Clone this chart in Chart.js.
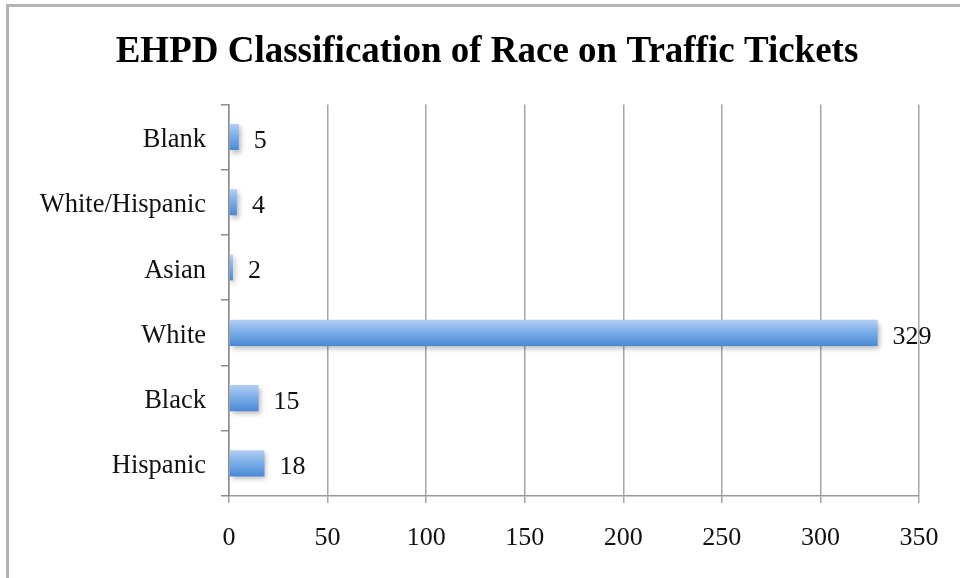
<!DOCTYPE html>
<html>
<head>
<meta charset="utf-8">
<script src="https://cdn.jsdelivr.net/npm/chart.js@4"></script>
<style>
  html, body { margin: 0; padding: 0; background: #fff; }
  #wrap { position: relative; width: 960px; height: 578px; }
  #frame {
    position: absolute; left: 6px; top: 4px; right: -10px; bottom: -10px;
    border-left: 3px solid #b3b3b3; border-top: 3px solid #b3b3b3;
    pointer-events: none;
  }
</style>
</head>
<body>
<div id="wrap">
  <canvas id="raceChart" width="960" height="578"></canvas>
  <div id="frame"></div>
</div>
<script>
const categories = ["Blank", "White/Hispanic", "Asian", "White", "Black", "Hispanic"];
const tickets = [5, 4, 2, 329, 15, 18];
const xTicks = [0, 50, 100, 150, 200, 250, 300, 350];

const serif = "'Liberation Serif', 'Times New Roman', serif";

document.addEventListener("DOMContentLoaded", function () {
  const ctx = document.getElementById("raceChart").getContext("2d");

  // vertical gradient for each bar, based on the category's pixel row
  function barFill(context) {
    const chart = context.chart;
    const yScale = chart.scales.y;
    if (!yScale || context.dataIndex == null) return "#6ea4e2";
    const y = yScale.getPixelForValue(context.dataIndex);
    if (!isFinite(y)) return "#6ea4e2";
    const half = 13;
    const g = chart.ctx.createLinearGradient(0, y - half, 0, y + half);
    g.addColorStop(0, "#b3d0f4");
    g.addColorStop(0.45, "#7cafe8");
    g.addColorStop(1, "#4a88d6");
    return g;
  }

  const barShadow = {
    id: "barShadow",
    beforeDatasetsDraw(chart) {
      const c = chart.ctx;
      c.save();
      c.shadowColor = "rgba(0, 0, 0, 0.28)";
      c.shadowBlur = 5;
      c.shadowOffsetX = 2;
      c.shadowOffsetY = 3;
    },
    afterDatasetsDraw(chart) {
      chart.ctx.restore();
    },
  };

  const valueLabels = {
    id: "valueLabels",
    afterDatasetsDraw(chart) {
      const c = chart.ctx;
      const meta = chart.getDatasetMeta(0);
      c.save();
      c.font = "26px " + serif;
      c.fillStyle = "#111";
      c.textAlign = "left";
      c.textBaseline = "middle";
      meta.data.forEach(function (bar, i) {
        c.fillText(String(tickets[i]), bar.x + 15, bar.y + 4);
      });
      c.restore();
    },
  };

  const chart = new Chart(ctx, {
    type: "bar",
    data: {
      labels: categories,
      datasets: [
        {
          label: "Tickets",
          data: tickets,
          backgroundColor: barFill,
          borderWidth: 0,
          categoryPercentage: 1,
          barPercentage: 0.4,
        },
      ],
    },
    options: {
      indexAxis: "y",
      responsive: false,
      animation: false,
      layout: {
        padding: { left: 14, right: 0, top: 0, bottom: 0 },
      },
      plugins: {
        legend: { display: false },
        tooltip: { enabled: false },
        title: {
          display: true,
          text: "EHPD Classification of Race on Traffic Tickets",
          color: "#000",
          font: { family: serif, size: 37, weight: "bold" },
          padding: { top: 30, bottom: 30 },
        },
      },
      scales: {
        x: {
          min: 0,
          max: 350,
          afterBuildTicks(scale) {
            scale.ticks = xTicks.map((v) => ({ value: v }));
          },
          afterFit(scale) {
            scale.height = 82;
          },
          grid: {
            color: "#a6a6a6",
            lineWidth: 1.5,
            tickLength: 7,
            drawTicks: true,
          },
          border: { color: "#999", width: 1.5 },
          ticks: {
            color: "#111",
            padding: 20,
            font: { family: serif, size: 26 },
          },
        },
        y: {
          afterFit(scale) {
            scale.width = 215;
          },
          grid: {
            offset: true,
            drawOnChartArea: false,
            drawTicks: true,
            tickLength: 8,
            color: "#8c8c8c",
            lineWidth: 1.5,
          },
          border: { color: "#8c8c8c", width: 1.5 },
          ticks: {
            color: "#111",
            padding: 15,
            labelOffset: 3,
            font: { family: serif, size: 26.5 },
          },
        },
        // empty right-hand gutter so the plot ends at 350 like the original
        yRight: {
          type: "category",
          position: "right",
          afterFit(scale) {
            scale.width = 41;
          },
          grid: { display: false },
          border: { display: false },
          ticks: { display: false },
        },
      },
    },
    plugins: [barShadow, valueLabels],
  });
  // re-run so the bar gradients see the laid-out scale
  chart.update();
});
</script>
</body>
</html>
